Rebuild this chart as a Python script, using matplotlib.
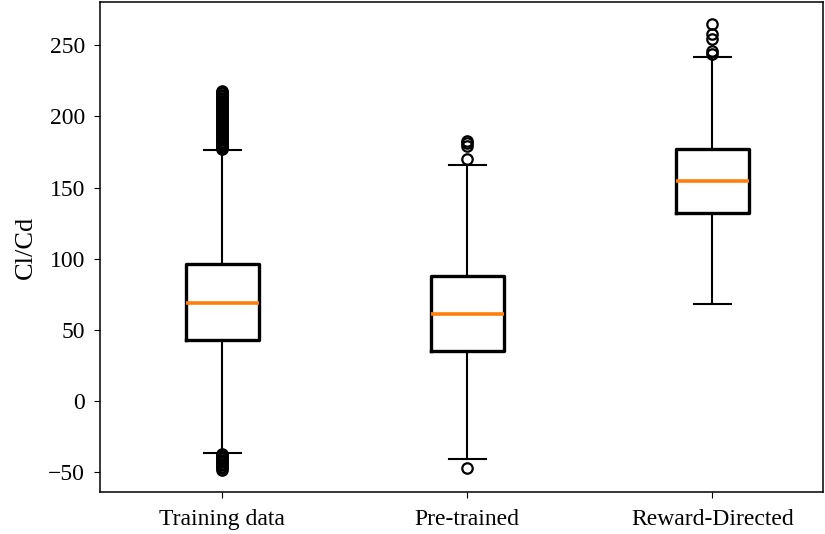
import matplotlib
matplotlib.use("Agg")
import matplotlib.pyplot as plt

plt.rcParams['font.family'] = ['Liberation Serif', 'DejaVu Serif']

labels = ['Training data', 'Pre-trained', 'Reward-Directed']
q1 = [43, 35, 132]
med = [69, 61, 154.5]
q3 = [96, 88, 177]
whislo = [-36.5, -40.5, 68]
whishi = [176, 166, 241.5]

# outliers (training set is a dense column of points)
fliers_train = [177, 177.5, 178, 179, 180, 181, 182, 183, 184, 185, 186, 187, 188,
                189, 190, 191, 192, 193, 194, 195, 196, 197, 198, 199, 200, 201,
                202, 203, 204, 205, 206, 207, 208, 209, 210, 211, 212, 213, 214,
                215, 216, 217, 218,
                -37, -38, -39, -40, -41, -42, -43, -44, -45, -46, -47, -48]
fliers_pre = [170, 179, 181, 182.5, -47]
fliers_reward = [244, 246, 254, 257.5, 264.5]
fliers = [fliers_train, fliers_pre, fliers_reward]

stats = []
for i in range(len(labels)):
    stats.append(dict(label=labels[i], q1=q1[i], med=med[i], q3=q3[i],
                      whislo=whislo[i], whishi=whishi[i], fliers=fliers[i]))

fig = plt.figure(figsize=(8.25, 5.34), dpi=100)
ax = fig.add_axes([0.121, 0.079, 0.876, 0.917])

ax.bxp(stats, positions=[1, 2, 3],
       boxprops=dict(linewidth=2.4, color='black'),
       medianprops=dict(linewidth=2.6, color='#ff7f0e'),
       whiskerprops=dict(linewidth=1.5, color='black'),
       capprops=dict(linewidth=1.5, color='black'),
       flierprops=dict(marker='o', markersize=7.5, markerfacecolor='none',
                       markeredgecolor='black', markeredgewidth=1.6))

ax.set_xlim(0.5, 3.45)
ax.set_yticks([-50, 0, 50, 100, 150, 200, 250])
ax.tick_params(labelsize=17, length=4.5)
ax.tick_params(axis='x', pad=8)
ax.tick_params(axis='y', pad=6)
for s in ax.spines.values():
    s.set_linewidth(1.1)
ax.set_ylabel('Cl/Cd', fontsize=19, labelpad=8)

fig.savefig('out.png', dpi=100)
